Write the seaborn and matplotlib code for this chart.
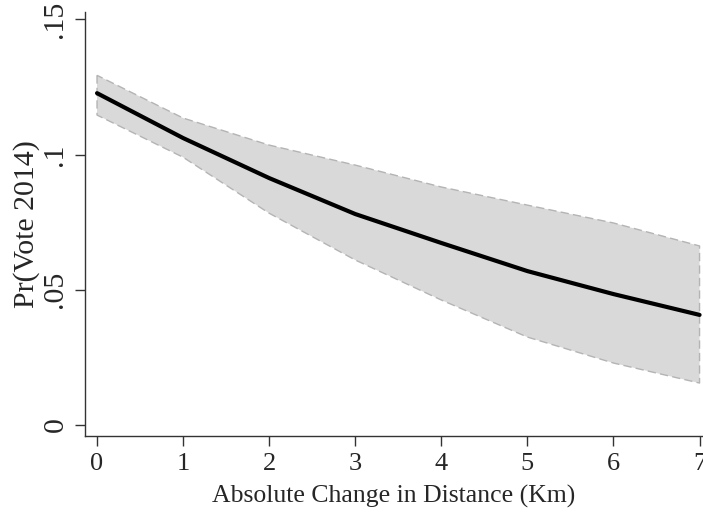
import matplotlib
matplotlib.use('Agg')
import matplotlib.pyplot as plt
import seaborn as sns
import pandas as pd

distance = [0, 1, 2, 3, 4, 5, 6, 7]
pr_vote = [0.1227, 0.1061, 0.0913, 0.0780, 0.0673, 0.0569, 0.0484, 0.0407]
ci_upper = [0.1293, 0.1135, 0.1035, 0.0961, 0.0880, 0.0813, 0.0747, 0.0662]
ci_lower = [0.1146, 0.0990, 0.0783, 0.0610, 0.0462, 0.0325, 0.0229, 0.0155]
y_ticks = [0, 0.05, 0.1, 0.15]
y_tick_labels = ['0', '.05', '.1', '.15']

df = pd.DataFrame({'distance': distance, 'pr': pr_vote, 'lo': ci_lower, 'hi': ci_upper})

sns.set_style('ticks')
plt.rcParams['font.family'] = ['Liberation Serif', 'DejaVu Serif']

fig = plt.figure(figsize=(7.03, 5.13), dpi=100)
ax = fig.add_axes([0.121, 0.150, 0.879, 0.826])

ax.fill_between(df['distance'], df['lo'], df['hi'], facecolor='#d9d9d9',
                edgecolor='#b4b4b4', linestyle=(0, (6, 3)), linewidth=1.0)
sns.lineplot(data=df, x='distance', y='pr', color='black', linewidth=3, ax=ax)

ax.set_xlim(-0.139, 7.04)
ax.set_ylim(-0.0041, 0.1526)
ax.set_xticks(distance)
ax.set_yticks(y_ticks)
ax.set_yticklabels(y_tick_labels, rotation=90, va='center')
ax.tick_params(axis='both', length=7, width=1, color='#333333')
ax.tick_params(axis='x', labelsize=19, pad=5)
ax.tick_params(axis='y', labelsize=21.5, pad=5)
ax.set_xlabel('Absolute Change in Distance (Km)', fontsize=18.5, labelpad=7)
ax.set_ylabel('Pr(Vote 2014)', fontsize=21.5, labelpad=2)

sns.despine(ax=ax)
for s in ['left', 'bottom']:
    ax.spines[s].set_color('#333333')
    ax.spines[s].set_linewidth(1)

fig.savefig('out.png', dpi=100)
